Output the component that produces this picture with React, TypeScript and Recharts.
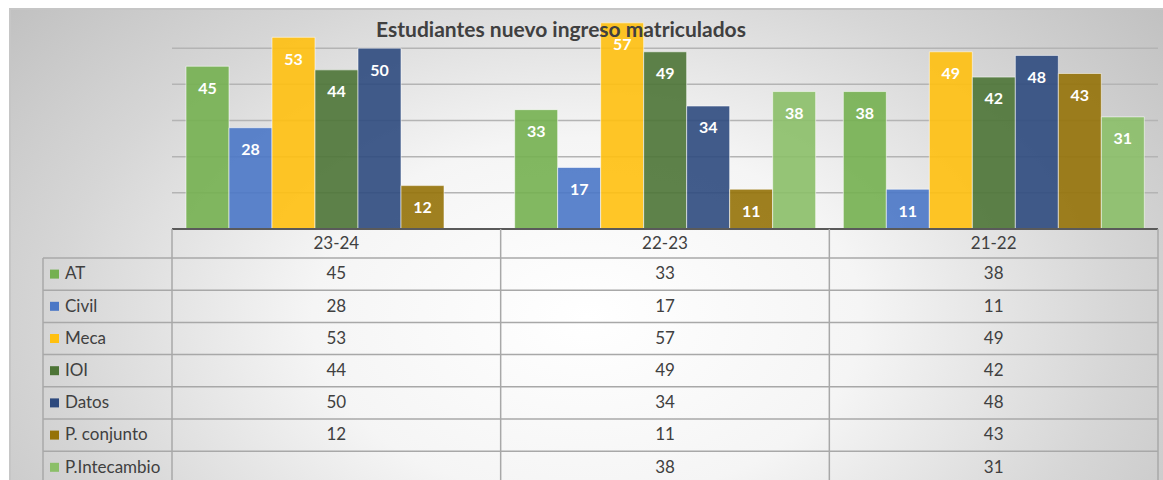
import React from 'react';
import { BarChart, Bar, XAxis, YAxis, CartesianGrid, LabelList } from 'recharts';

// school years, newest first (as in the original sheet)
const years = ['23-24', '22-23', '21-22'];

const at = [45, 33, 38];
const civil = [28, 17, 11];
const meca = [53, 57, 49];
const ioi = [44, 49, 42];
const datos = [50, 34, 48];
const conjunto = [12, 11, 43];
const intercambio = [null, 38, 31];

const gridValues = [10, 20, 30, 40, 50];

const series = [
  { key: 'at', name: 'AT', values: at, color: '#74B050' },
  { key: 'civil', name: 'Civil', values: civil, color: '#4A77C6' },
  { key: 'meca', name: 'Meca', values: meca, color: '#FFC010' },
  { key: 'ioi', name: 'IOI', values: ioi, color: '#4D7436' },
  { key: 'datos', name: 'Datos', values: datos, color: '#2E4A7E' },
  { key: 'conjunto', name: 'P. conjunto', values: conjunto, color: '#957208' },
  { key: 'intercambio', name: 'P.Intecambio', values: intercambio, color: '#8BBF68' },
];

const data = years.map((year, i) => {
  const row: Record<string, any> = { year };
  series.forEach((s) => {
    row[s.key] = s.values[i];
  });
  return row;
});

const WIDTH = 1163;
const HEIGHT = 480;
const PLOT_LEFT = 172;
const PLOT_RIGHT = 1158;
const PLOT_TOP = 12;
const PLOT_BOTTOM = 229;
const BAND = (PLOT_RIGHT - PLOT_LEFT) / years.length;
const HEADER_H = 29;
const ROW_H = 32.2;
const LEGEND_LEFT = 43;
const LINE = '#a8a8a8';
const TEXT = '#404040';
const FONT = "Lato, 'Open Sans', sans-serif";
const TABLE_FONT = 17;

// draws one column of the data table under each category
const TableTick = (props: any) => {
  const { x, y, payload, index } = props;
  const left = x - BAND / 2;
  const right = x + BAND / 2;
  const rowsTop = y + HEADER_H;
  const bottom = rowsTop + ROW_H * series.length;
  const isLast = index === years.length - 1;

  return (
    <g>
      <line x1={left} y1={y} x2={left} y2={bottom} stroke={LINE} strokeWidth={1.5} />
      {isLast && <line x1={right} y1={y} x2={right} y2={bottom} stroke={LINE} strokeWidth={1.5} />}
      {series.map((s, k) => (
        <line key={s.key} x1={left} y1={rowsTop + ROW_H * k} x2={right} y2={rowsTop + ROW_H * k} stroke={LINE} strokeWidth={1.5} />
      ))}
      <text x={x} y={y + HEADER_H / 2 + 1} textAnchor="middle" dominantBaseline="middle" fill={TEXT} fontSize={TABLE_FONT} fontFamily={FONT}>
        {payload.value}
      </text>
      {series.map((s, k) => {
        const v = s.values[index];
        return (
          <text key={s.key} x={x} y={rowsTop + ROW_H * k + ROW_H / 2 + 1} textAnchor="middle" dominantBaseline="middle" fill={TEXT} fontSize={TABLE_FONT} fontFamily={FONT}>
            {v == null ? '' : v}
          </text>
        );
      })}
      {index === 0 && (
        <g>
          <line x1={LEGEND_LEFT} y1={rowsTop} x2={LEGEND_LEFT} y2={bottom} stroke={LINE} strokeWidth={1.5} />
          {series.map((s, k) => {
            const ry = rowsTop + ROW_H * k;
            return (
              <g key={s.key}>
                <line x1={LEGEND_LEFT} y1={ry} x2={left} y2={ry} stroke={LINE} strokeWidth={1.5} />
                <rect x={LEGEND_LEFT + 7} y={ry + ROW_H / 2 - 4.5} width={9} height={9} fill={s.color} />
                <text x={LEGEND_LEFT + 22} y={ry + ROW_H / 2 + 1} dominantBaseline="middle" fill={TEXT} fontSize={TABLE_FONT} fontFamily={FONT}>
                  {s.name}
                </text>
              </g>
            );
          })}
        </g>
      )}
    </g>
  );
};

export default function App() {
  return (
    <div style={{ position: 'absolute', left: 0, top: 0, width: WIDTH, height: HEIGHT, overflow: 'hidden', background: '#fff', fontFamily: FONT }}>
      <div
        style={{
          position: 'absolute',
          left: 9,
          top: 8,
          width: 1152,
          height: 560,
          border: '2px solid #c6c6c6',
          background: 'radial-gradient(ellipse 68% 92% at 50% 55%, #ffffff 0%, #f5f5f5 35%, #d6d6d6 68%, #bdbdbd 100%)',
        }}
      />
      <div style={{ position: 'absolute', left: 0, top: 0 }}>
        <BarChart
          width={WIDTH}
          height={HEIGHT}
          data={data}
          margin={{ top: PLOT_TOP, right: WIDTH - PLOT_RIGHT, bottom: 0, left: PLOT_LEFT }}
          barCategoryGap={14}
          barGap={0}
        >
          <CartesianGrid vertical={false} horizontalValues={gridValues} stroke="#b4b4b4" strokeWidth={1.5} />
          <YAxis hide domain={[0, 60]} ticks={[0, ...gridValues]} />
          <XAxis
            dataKey="year"
            height={HEIGHT - PLOT_BOTTOM}
            axisLine={{ stroke: '#5a5a5a', strokeWidth: 2 }}
            tickLine={false}
            tickSize={0}
            tickMargin={0}
            interval={0}
            tick={<TableTick />}
          />
          {series.map((s) => (
            <Bar
              key={s.key}
              dataKey={s.key}
              name={s.name}
              fill={s.color}
              fillOpacity={0.9}
              stroke="#ffffff"
              strokeOpacity={0.55}
              strokeWidth={1}
              isAnimationActive={false}
            >
              <LabelList dataKey={s.key} position="insideTop" offset={16} fill="#ffffff" fontSize={16} fontWeight="bold" fontFamily={FONT} />
            </Bar>
          ))}
        </BarChart>
      </div>
      <div
        style={{
          position: 'absolute',
          left: 0,
          top: 18,
          width: 1122,
          textAlign: 'center',
          fontSize: 21,
          lineHeight: '22px',
          fontWeight: 'bold',
          color: TEXT,
          fontFamily: FONT,
        }}
      >
        Estudiantes nuevo ingreso matriculados
      </div>
    </div>
  );
}
